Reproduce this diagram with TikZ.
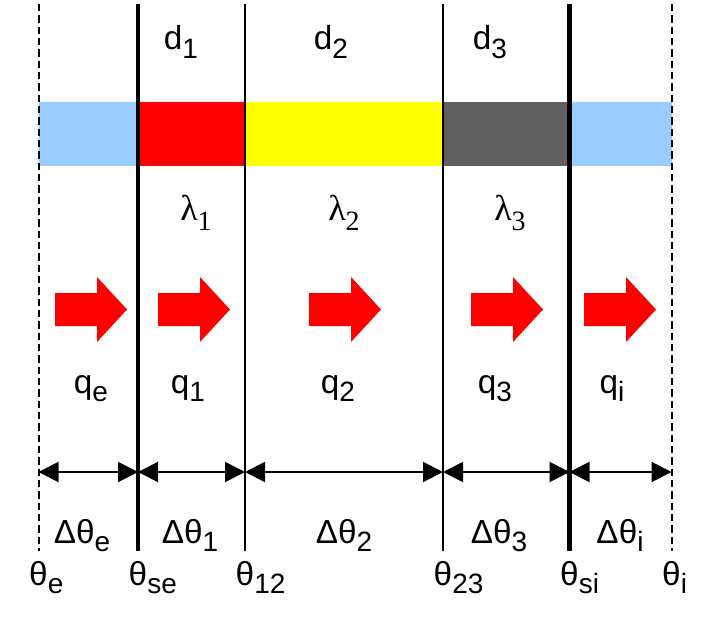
\documentclass[tikz,border=0pt]{standalone}
\usepackage{fontspec}
\setmainfont{Liberation Sans}
\newfontfamily\lamfont{Liberation Serif}
\usepackage{tikz}
\usetikzlibrary{arrows.meta,calc,positioning}
\newcommand\lo[1]{\raisebox{-.26em}{\fontsize{21}{21}\selectfont #1}}
\definecolor{airblue}{HTML}{99CCFF}
\definecolor{layerA}{HTML}{FF0000}
\definecolor{layerB}{HTML}{FFFF00}
\definecolor{layerC}{HTML}{606060}
\tikzset{
	wall/.style={line width=3.4pt},
	iface/.style={line width=1.5pt},
	bound/.style={line width=1.5pt, dash pattern=on 5.5pt off 3pt},
	dim/.style={line width=1.5pt, {Triangle[length=15pt,width=15pt]}-{Triangle[length=15pt,width=15pt]}},
	lbl/.style={anchor=base, inner sep=0pt, font=\fontsize{25}{27}\selectfont},
	flux/.pic={\fill[red] (0,-16.5) -- (42,-16.5) -- (42,-32.5) -- (72,0)
		-- (42,32.5) -- (42,16.5) -- (0,16.5) -- cycle;}
}
\begin{document}
\begin{tikzpicture}[x=0.75pt, y=-0.75pt]
	\useasboundingbox (0,0) rectangle (727,623);
	\path (38.5,4) coordinate (eT) (38.5,551) coordinate (eB) (38.5,472) coordinate (eD)
		(138,4) coordinate (seT) (138,551) coordinate (seB) (138,472) coordinate (seD)
		(245,4) coordinate (12T) (245,551) coordinate (12B) (245,472) coordinate (12D)
		(443,4) coordinate (23T) (443,551) coordinate (23B) (443,472) coordinate (23D)
		(569.5,4) coordinate (siT) (569.5,551) coordinate (siB) (569.5,472) coordinate (siD)
		(671.5,4) coordinate (iT) (671.5,551) coordinate (iB) (671.5,472) coordinate (iD);
	% wall layers
	\foreach \a/\b/\c in {e/se/airblue,se/12/layerA,12/23/layerB,23/si/layerC,si/i/airblue}
		\fill[\c] ($(\a T)+(0,98)$) rectangle ($(\b T)+(0,162)$);
	\draw[bound] (eT) -- (eB);
	\draw[bound] (iT) -- (iB);
	\draw[wall] (seT) -- (seB);
	\draw[wall] (siT) -- (siB);
	\draw[iface] (12T) -- (12B);
	\draw[iface] (23T) -- (23B);
	\foreach \a/\b in {e/se,se/12,12/23,23/si,si/i}
		\draw[dim] (\a D) -- (\b D);
	% heat flux
	\foreach \x in {55,158,309,471,584}
		\pic at (\x,309.5) {flux};
	\foreach \n/\x in {1/181,2/331,3/490}
		\node[lbl] (d\n) at (\x,50) {d\lo{\n}};
	\foreach \n/\x in {1/196,2/344,3/510}
		\node[lbl] (lam\n) at (\x,221) {\lamfont\fontsize{27}{29}\selectfont λ\lo{\n}};
	\foreach \n/\x in {e/91,1/188,2/338,3/495,i/612}
		\node[lbl] (q\n) at (\x,393) {q\lo{\n}};
	\foreach \n/\x in {e/82,1/190,2/344,3/499,i/620}
		\node[lbl] (dt\n) at (\x,543) {Δθ\lo{\n}};
	\foreach \n/\x in {e/38.5,se/138,12/245,23/443,si/569.5,i/671.5}
		\node[lbl] (t\n) at (\x,585) {θ\rlap{\lo{\n}}};
\end{tikzpicture}
\end{document}
